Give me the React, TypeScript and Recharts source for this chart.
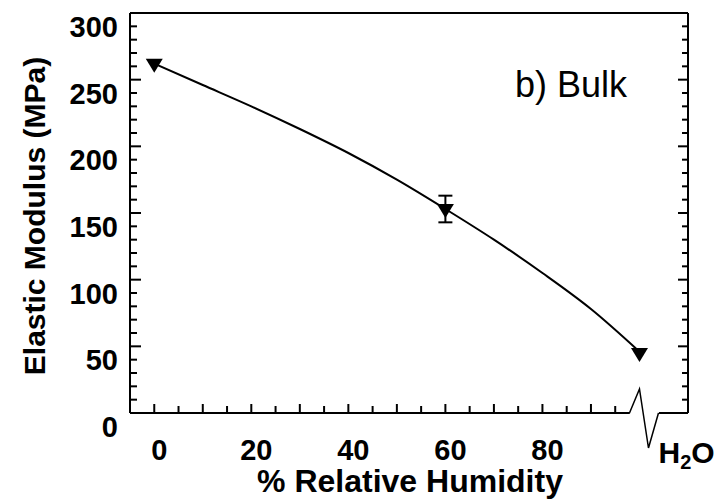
import {
  ComposedChart,
  Line,
  Scatter,
  ErrorBar,
  XAxis,
  YAxis,
  ReferenceLine,
  ReferenceDot,
} from "recharts";

// fitted curve
const humidity = [0, 10, 20, 30, 40, 50, 60, 70, 80, 90, 100];
const modulusFit = [262, 246, 230, 213, 195, 175, 153, 130, 105, 78, 46];

// measured points (100 = liquid water)
const measuredRH = [0, 60, 100];
const measuredModulus = [262, 153, 45];
const measuredError = [0, 10, 0];

const bottomTicks = [0, 5, 10, 15, 20, 25, 30, 35, 40, 45, 50, 55, 60, 65, 70, 75, 80, 85, 90, 95, 100];
const topTicks = [0, 5, 10, 15, 20, 25, 30, 35, 40, 45, 50, 55, 60, 65, 70, 75, 80, 85, 90, 95, 100, 105];
const xLabels = [0, 20, 40, 60, 80];
const yTicks = [0, 10, 20, 30, 40, 50, 60, 70, 80, 90, 100, 110, 120, 130, 140, 150, 160, 170, 180, 190, 200, 210, 220, 230, 240, 250, 260, 270, 280, 290, 300];
const yLabels = [0, 50, 100, 150, 200, 250, 300];
const WATER = 100;

const FONT = "'Liberation Sans', Arial, sans-serif";

const fitData = humidity.map((x, i) => ({ x, y: modulusFit[i] }));
const pointData = measuredRH.map((x, i) => ({ x, y: measuredModulus[i], err: measuredError[i] }));

const BottomTick = ({ x, y, payload }: any) => {
  const v = payload.value;
  if (v === WATER) {
    return (
      <text x={x + 19} y={y + 50} fontSize={30} fontWeight="bold" fontFamily={FONT} fill="#000">
        H
        <tspan dy={6} fontSize={20}>2</tspan>
        <tspan dy={-6}>O</tspan>
      </text>
    );
  }
  return (
    <g>
      <line x1={x} x2={x} y1={y} y2={y - (v % 10 === 0 ? 9 : 7)} stroke="#000" strokeWidth={2} />
      {xLabels.includes(v) && (
        <text x={x + 5} y={y + 47} textAnchor="middle" fontSize={29} fontWeight="bold" fontFamily={FONT} fill="#000">
          {v}
        </text>
      )}
    </g>
  );
};

const TopTick = ({ x, y, payload }: any) => (
  <line x1={x} x2={x} y1={y} y2={y + (payload.value % 10 === 0 ? 10 : 7)} stroke="#000" strokeWidth={2} />
);

const LeftTick = ({ x, y, payload }: any) => {
  const v = payload.value;
  return (
    <g>
      <line x1={x} x2={x + (v % 50 === 0 ? 11 : 7)} y1={y} y2={y} stroke="#000" strokeWidth={2} />
      {yLabels.includes(v) && (
        <text x={x - 12} y={y + 24} textAnchor="end" fontSize={29} fontWeight="bold" fontFamily={FONT} fill="#000">
          {v}
        </text>
      )}
    </g>
  );
};

const RightTick = ({ x, y, payload }: any) => (
  <line x1={x} x2={x - (payload.value % 50 === 0 ? 10 : 6)} y1={y} y2={y} stroke="#000" strokeWidth={2} />
);

const Triangle = ({ cx, cy }: any) => (
  <polygon points={`${cx - 8.5},${cy - 5} ${cx + 8.5},${cy - 5} ${cx},${cy + 9}`} fill="#000" />
);

const AxisBreak = ({ cx, cy }: any) => (
  <polyline
    points={`${cx - 10},${cy} ${cx},${cy - 24} ${cx + 9},${cy + 35} ${cx + 19},${cy}`}
    fill="none"
    stroke="#000"
    strokeWidth={1.5}
  />
);

export default function App() {
  return (
    <div style={{ position: "absolute", left: 0, top: 0, background: "#fff" }}>
      <ComposedChart width={728} height={503} margin={{ top: 12, right: 39, bottom: 89, left: 129 }}>
        <XAxis
          xAxisId="bottom"
          dataKey="x"
          type="number"
          domain={[-5, 110]}
          ticks={bottomTicks}
          interval={0}
          height={1}
          axisLine={false}
          tickLine={false}
          tickSize={0}
          tickMargin={0}
          tick={<BottomTick />}
          allowDataOverflow
        />
        <XAxis
          xAxisId="top"
          orientation="top"
          type="number"
          domain={[-5, 110]}
          ticks={topTicks}
          interval={0}
          height={1}
          axisLine={{ stroke: "#000", strokeWidth: 2 }}
          tickLine={false}
          tickSize={0}
          tickMargin={0}
          tick={<TopTick />}
          allowDataOverflow
        />
        <YAxis
          yAxisId="left"
          dataKey="y"
          type="number"
          domain={[0, 300]}
          ticks={yTicks}
          interval={0}
          width={1}
          axisLine={{ stroke: "#000", strokeWidth: 2 }}
          tickLine={false}
          tickSize={0}
          tickMargin={0}
          tick={<LeftTick />}
          allowDataOverflow
        />
        <YAxis
          yAxisId="right"
          orientation="right"
          type="number"
          domain={[0, 300]}
          ticks={yTicks}
          interval={0}
          width={1}
          axisLine={{ stroke: "#000", strokeWidth: 2 }}
          tickLine={false}
          tickSize={0}
          tickMargin={0}
          tick={<RightTick />}
          allowDataOverflow
        />
        <ReferenceLine
          xAxisId="bottom"
          yAxisId="left"
          segment={[{ x: -5, y: 0 }, { x: 98, y: 0 }]}
          stroke="#000"
          strokeWidth={2}
          ifOverflow="visible"
        />
        <ReferenceLine
          xAxisId="bottom"
          yAxisId="left"
          segment={[{ x: 104, y: 0 }, { x: 110, y: 0 }]}
          stroke="#000"
          strokeWidth={2}
          ifOverflow="visible"
        />
        <ReferenceDot xAxisId="bottom" yAxisId="left" x={WATER} y={0} ifOverflow="visible" shape={<AxisBreak />} />
        <Line
          xAxisId="bottom"
          yAxisId="left"
          data={fitData}
          dataKey="y"
          type="monotone"
          stroke="#000"
          strokeWidth={2}
          dot={false}
          activeDot={false}
          isAnimationActive={false}
        />
        <Scatter
          xAxisId="bottom"
          yAxisId="left"
          data={pointData}
          dataKey="y"
          shape={<Triangle />}
          isAnimationActive={false}
        >
          <ErrorBar dataKey="err" direction="y" width={7} stroke="#000" strokeWidth={2} />
        </Scatter>
        <text x={515} y={97} fontSize={36} fontFamily={FONT} fill="#000">
          b) Bulk
        </text>
        <text x={410} y={492} textAnchor="middle" fontSize={32} fontWeight="bold" fontFamily={FONT} fill="#000">
          % Relative Humidity
        </text>
        <text
          x={45}
          y={216}
          transform="rotate(-90 45 216)"
          textAnchor="middle"
          fontSize={30}
          fontWeight="bold"
          fontFamily={FONT}
          fill="#000"
        >
          Elastic Modulus (MPa)
        </text>
      </ComposedChart>
    </div>
  );
}
